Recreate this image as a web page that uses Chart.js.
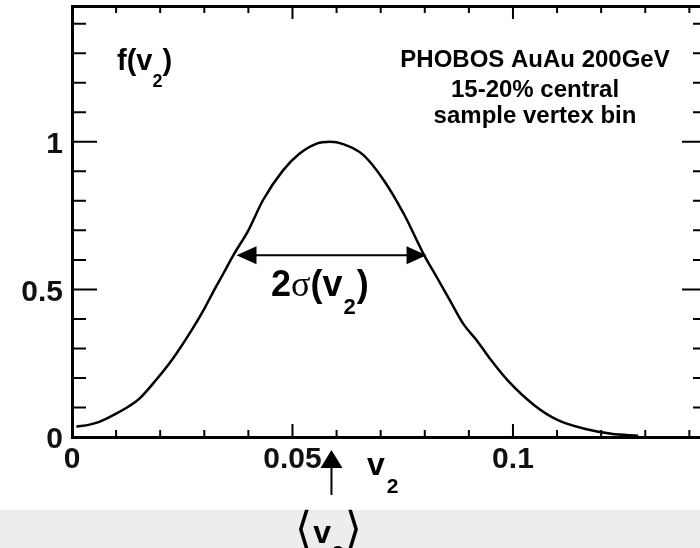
<!DOCTYPE html>
<html>
<head>
<meta charset="utf-8">
<script src="https://cdn.jsdelivr.net/npm/chart.js@4.4.0/dist/chart.umd.min.js"></script>
<style>
  html, body { margin: 0; padding: 0; overflow: hidden; background: #fff; }
  #wrap { position: relative; width: 700px; height: 548px; overflow: hidden; }
  #band { position: absolute; left: 0; top: 510px; width: 700px; height: 38px; background: #ededed; }
  canvas { position: absolute; left: 0; top: 0; }
</style>
</head>
<body>
<div id="wrap">
  <div id="band"></div>
  <canvas id="c" width="712" height="548"></canvas>
</div>
<script>
// v2 distribution
const v2 = [0.001, 0.004, 0.0062, 0.01, 0.013, 0.0153, 0.019, 0.0229, 0.0271,
  0.0298, 0.032, 0.0343, 0.0366, 0.040, 0.0433, 0.0479, 0.0517, 0.0555, 0.0585,
  0.0615, 0.0661, 0.0707, 0.0752, 0.0800, 0.0827, 0.0857, 0.0887, 0.0918,
  0.0948, 0.0988, 0.1049, 0.1102, 0.1162, 0.1223, 0.1284]
const fv2 = [0.035, 0.042, 0.051, 0.079, 0.105, 0.13, 0.192, 0.266, 0.361,
  0.429, 0.491, 0.553, 0.616, 0.70, 0.802, 0.904, 0.961, 0.994, 1.0,
  0.992, 0.955, 0.870, 0.757, 0.612, 0.542, 0.463, 0.384, 0.327,
  0.265, 0.192, 0.107, 0.057, 0.028, 0.011, 0.004]

const xTicks = [0, 0.05, 0.1]
const yTicks = [0, 0.5, 1]

// width arrow and mean marker
const sigmaLo = 0.0373
const sigmaHi = 0.0804
const sigmaLevel = 0.616
const meanV2 = 0.0585

const infoLines = ['PHOBOS AuAu 200GeV', '15-20% central', 'sample vertex bin']

const SANS = '"Liberation Sans", Arial, sans-serif'

// draws text like "f(v" + sub "2" + ")"
function drawSub(ctx, x, y, parts) {
  let cx = x
  parts.forEach(p => {
    ctx.font = p.font
    ctx.fillText(p.t, cx, y + (p.dy || 0))
    cx += ctx.measureText(p.t).width + (p.gap || 0)
  })
}

function arrowHead(ctx, tipX, tipY, dir, len, half) {
  ctx.beginPath()
  ctx.moveTo(tipX, tipY)
  if (dir === 'left') { ctx.lineTo(tipX + len, tipY - half); ctx.lineTo(tipX + len, tipY + half) }
  if (dir === 'right') { ctx.lineTo(tipX - len, tipY - half); ctx.lineTo(tipX - len, tipY + half) }
  if (dir === 'up') { ctx.lineTo(tipX - half, tipY + len); ctx.lineTo(tipX + half, tipY + len) }
  ctx.closePath()
  ctx.fill()
}

// no extra room for the edge labels
function noPad(s) {
  s.paddingTop = 0; s.paddingBottom = 0; s.paddingLeft = 0; s.paddingRight = 0
}

// inward ROOT-style ticks on all four sides
const frameTicks = {
  id: 'frameTicks',
  afterDraw(chart) {
    const { ctx, chartArea: a } = chart
    const x = chart.scales.x, y = chart.scales.y
    ctx.save()
    ctx.strokeStyle = '#000'
    ctx.lineWidth = 2
    ctx.beginPath()
    for (let i = 1; i <= 14; i++) {
      const px = x.getPixelForValue(i / 100)
      const len = i % 5 === 0 ? 13 : 7
      ctx.moveTo(px, a.bottom); ctx.lineTo(px, a.bottom - len)
      ctx.moveTo(px, a.top); ctx.lineTo(px, a.top + len)
    }
    for (let i = 1; i <= 14; i++) {
      const py = y.getPixelForValue(i / 10)
      const len = i % 5 === 0 ? 25 : 14
      ctx.moveTo(a.left, py); ctx.lineTo(a.left + len, py)
      ctx.moveTo(a.right, py); ctx.lineTo(a.right - len, py)
    }
    ctx.stroke()
    ctx.restore()
  }
}

const notes = {
  id: 'notes',
  afterDraw(chart) {
    const { ctx, chartArea: a } = chart
    const x = chart.scales.x, y = chart.scales.y
    ctx.save()
    ctx.fillStyle = '#000'
    ctx.strokeStyle = '#000'
    ctx.textBaseline = 'alphabetic'

    // f(v2)
    ctx.textAlign = 'left'
    drawSub(ctx, 117, 70, [
      { t: 'f(v', font: 'bold 29px ' + SANS },
      { t: '2', font: 'bold 18px ' + SANS, dy: 17 },
      { t: ')', font: 'bold 29px ' + SANS }
    ])

    // info text
    ctx.textAlign = 'center'
    ctx.font = 'bold 24px ' + SANS
    const infoX = 535
    ;[67, 97, 123].forEach((b, i) => ctx.fillText(infoLines[i], infoX, b))

    // 2 sigma arrow
    const lx = x.getPixelForValue(sigmaLo)
    const rx = x.getPixelForValue(sigmaHi)
    const ly = y.getPixelForValue(sigmaLevel)
    ctx.lineWidth = 2
    ctx.beginPath()
    ctx.moveTo(lx + 18, ly); ctx.lineTo(rx - 18, ly)
    ctx.stroke()
    arrowHead(ctx, lx, ly, 'left', 20, 9)
    arrowHead(ctx, rx, ly, 'right', 20, 9)

    ctx.textAlign = 'left'
    drawSub(ctx, 271, 296, [
      { t: '2', font: 'bold 36px ' + SANS },
      { t: 'σ', font: '36px "Liberation Serif", serif' },
      { t: '(v', font: 'bold 36px ' + SANS, gap: 1 },
      { t: '2', font: 'bold 22px ' + SANS, dy: 18, gap: 1 },
      { t: ')', font: 'bold 36px ' + SANS }
    ])

    // axis title v2
    drawSub(ctx, 367, 475, [
      { t: 'v', font: 'bold 32px ' + SANS, gap: 2 },
      { t: '2', font: 'bold 21px ' + SANS, dy: 18 }
    ])

    // mean arrow below the axis
    const mx = x.getPixelForValue(meanV2) + 1.5
    ctx.lineWidth = 2
    ctx.beginPath()
    ctx.moveTo(mx, a.bottom + 58); ctx.lineTo(mx, a.bottom + 28)
    ctx.stroke()
    arrowHead(ctx, mx, a.bottom + 13, 'up', 18, 11)

    drawSub(ctx, 295, 543, [
      { t: '⟨', font: '44px "DejaVu Sans", sans-serif', gap: 1 },
      { t: 'v', font: 'bold 32px ' + SANS, gap: 1 },
      { t: '2', font: 'bold 21px ' + SANS, dy: 17, gap: 1 },
      { t: '⟩', font: '44px "DejaVu Sans", sans-serif' }
    ])
    ctx.restore()
  }
}

const tickFont = { family: SANS, weight: 'bold', size: 30 }

new Chart(document.getElementById('c'), {
  type: 'line',
  data: {
    datasets: [{
      data: v2.map((v, i) => ({ x: v, y: fv2[i] })),
      borderColor: '#000',
      borderWidth: 2.5,
      pointRadius: 0,
      cubicInterpolationMode: 'monotone',
      fill: false
    }]
  },
  options: {
    responsive: false,
    animation: false,
    layout: { padding: { top: 6, right: 5, left: 0, bottom: 0 } },
    plugins: { legend: { display: false }, tooltip: { enabled: false } },
    scales: {
      x: {
        type: 'linear', position: 'bottom', min: 0, max: 0.144,
        afterBuildTicks: s => { s.ticks = xTicks.map(v => ({ value: v })) },
        afterFit: s => { s.height = 111; noPad(s) },
        grid: { display: false, drawTicks: false },
        border: { width: 3, color: '#000' },
        ticks: { font: tickFont, color: '#111', padding: 5, maxRotation: 0, autoSkip: false, callback: v => String(v) }
      },
      xTop: {
        type: 'linear', position: 'top', min: 0, max: 0.144,
        grid: { display: false, drawTicks: false },
        border: { width: 3, color: '#000' },
        ticks: { display: false },
        afterFit: s => { s.height = 0; noPad(s) }
      },
      y: {
        type: 'linear', position: 'left', min: 0, max: 1.46,
        afterBuildTicks: s => { s.ticks = yTicks.map(v => ({ value: v })) },
        afterFit: s => { s.width = 72; noPad(s) },
        grid: { display: false, drawTicks: false },
        border: { width: 3, color: '#000' },
        ticks: { font: tickFont, color: '#111', padding: 9, labelOffset: 3, callback: v => String(v) }
      },
      yRight: {
        type: 'linear', position: 'right', min: 0, max: 1.46,
        grid: { display: false, drawTicks: false },
        border: { width: 3, color: '#000' },
        ticks: { display: false },
        afterFit: s => { s.width = 0; noPad(s) }
      }
    }
  },
  plugins: [frameTicks, notes]
})
</script>
</body>
</html>
